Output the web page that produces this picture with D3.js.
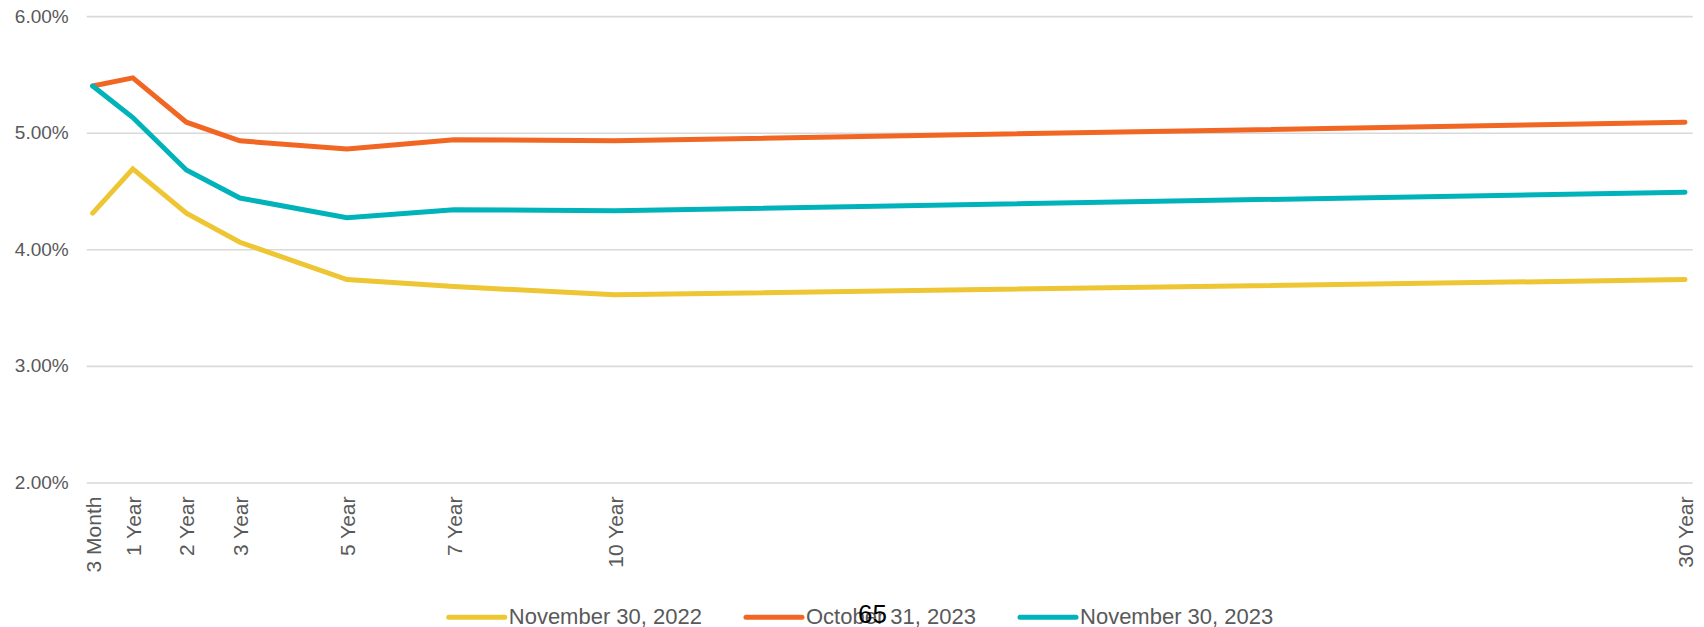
<!DOCTYPE html>
<html>
<head>
<meta charset="utf-8">
<script src="https://cdn.jsdelivr.net/npm/d3@7"></script>
<style>
  html, body { margin: 0; padding: 0; background: #ffffff; }
  svg { display: block; font-family: "Liberation Sans", Arial, sans-serif; }
</style>
</head>
<body>
<svg id="chart" width="1704" height="627"></svg>
<script>
// ---- data ----
const tenors = [0.25, 1, 2, 3, 5, 7, 10, 30];
const tenorLabels = ["3 Month", "1 Year", "2 Year", "3 Year", "5 Year", "7 Year", "10 Year", "30 Year"];
const nov2022 = [4.31, 4.69, 4.31, 4.06, 3.74, 3.68, 3.61, 3.74];
const oct2023 = [5.40, 5.47, 5.09, 4.93, 4.86, 4.94, 4.93, 5.09];
const nov2023 = [5.40, 5.13, 4.68, 4.44, 4.27, 4.34, 4.33, 4.49];
const seriesNames = ["November 30, 2022", "October 31, 2023", "November 30, 2023"];
const seriesColors = ["#EEC532", "#F26624", "#00B3BA"];
const yTicks = [2, 3, 4, 5, 6];
const pageNumber = "65";

const series = [nov2022, oct2023, nov2023].map((vals, i) => ({
  name: seriesNames[i], color: seriesColors[i],
  points: vals.map((v, j) => ({ t: tenors[j], v }))
}));

const svg = d3.select("#chart");
const gridLeft = 86.7, gridRight = 1692.7;

const x = d3.scaleLinear().domain([0.25, 30]).range([92.7, 1685]);
const y = d3.scaleLinear().domain([2, 6]).range([482.5, 16.1]);

// y axis with gridlines
const yAxis = svg.append("g")
  .attr("transform", `translate(${gridLeft},0)`)
  .call(d3.axisLeft(y).tickValues(yTicks)
    .tickSize(-(gridRight - gridLeft))
    .tickPadding(18)
    .tickFormat(d => d3.format(".2f")(d) + "%"));
yAxis.select(".domain").remove();
yAxis.selectAll(".tick line").attr("stroke", "#d9d9d9").attr("stroke-width", 1.6);
yAxis.selectAll(".tick text")
  .attr("fill", "#595959")
  .style("font-size", "19px")
  .style("font-family", "'Liberation Sans', Arial, sans-serif");

// x axis labels (rotated)
const xAxis = svg.append("g")
  .attr("transform", `translate(0,${y(2)})`)
  .call(d3.axisBottom(x).tickValues(tenors).tickSize(0)
    .tickFormat((d, i) => tenorLabels[i]));
xAxis.select(".domain").remove();
xAxis.selectAll(".tick text")
  .attr("transform", "rotate(-90)")
  .attr("x", -14)
  .attr("y", 0)
  .attr("dy", "0.36em")
  .attr("text-anchor", "end")
  .attr("fill", "#595959")
  .style("font-size", "21px")
  .style("font-family", "'Liberation Sans', Arial, sans-serif");

// lines
const line = d3.line().x(d => x(d.t)).y(d => y(d.v));
svg.append("g").selectAll("path")
  .data(series)
  .join("path")
  .attr("d", d => line(d.points))
  .attr("fill", "none")
  .attr("stroke", d => d.color)
  .attr("stroke-width", 5)
  .attr("stroke-linejoin", "miter")
  .attr("stroke-linecap", "round");

// legend
const legend = svg.append("g");
const items = legend.selectAll("g").data(series).join("g");
items.append("line")
  .attr("x1", 0).attr("x2", 56).attr("y1", 617.3).attr("y2", 617.3)
  .attr("stroke", d => d.color).attr("stroke-width", 5).attr("stroke-linecap", "round");
items.append("text")
  .attr("x", 60).attr("y", 624)
  .attr("fill", "#595959")
  .style("font-size", "22px")
  .text(d => d.name);
let widths = [];
items.each(function () {
  widths.push(60 + d3.select(this).select("text").node().getComputedTextLength());
});
const gap = 44;
const total = d3.sum(widths) + gap * (widths.length - 1);
let cx = 861 - total / 2;
items.each(function (d, i) {
  d3.select(this).attr("transform", `translate(${cx},0)`);
  cx += widths[i] + gap;
});

// page number overlay
svg.append("text")
  .attr("x", 858).attr("y", 623.3)
  .attr("fill", "#000000")
  .style("font-size", "26px")
  .text(pageNumber);
</script>
</body>
</html>
